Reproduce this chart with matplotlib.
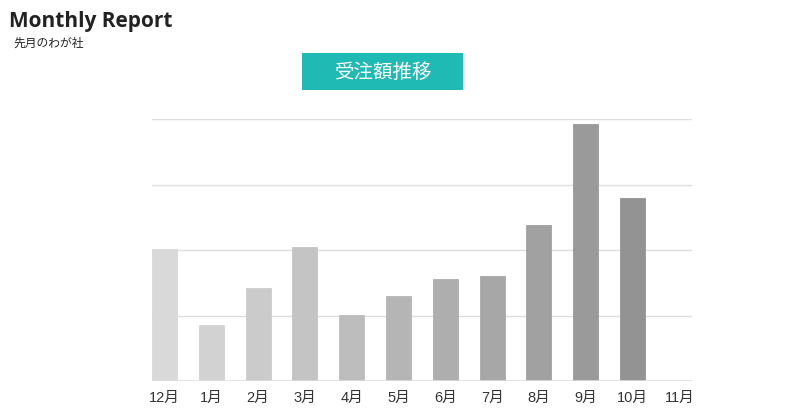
import matplotlib
matplotlib.use("Agg")
import matplotlib.pyplot as plt
from matplotlib.patches import Rectangle

plt.rcParams['font.family'] = ['Noto Sans CJK JP', 'DejaVu Sans']

months = ['12月', '1月', '2月', '3月', '4月', '5月', '6月', '7月', '8月', '9月', '10月', '11月']
orders = [201, 85, 142, 204, 101, 130, 156, 160, 238, 392, 279, None]
bar_colors = ['#d9d9d9', '#d2d2d2', '#cbcbcb', '#c4c4c4', '#bdbdbd', '#b5b5b5',
              '#aeaeae', '#a7a7a7', '#a1a1a1', '#9a9a9a', '#939393']
grid_levels = [100, 200, 300, 400]

W, H = 800, 420
fig = plt.figure(figsize=(W / 100, H / 100), dpi=100)
fig.patch.set_facecolor('white')


def fx(px):
    return px / W


def fy(py):
    return 1 - py / H


ax = fig.add_axes([fx(152), fy(381), fx(692) - fx(152), fy(119) - fy(381)])
ax.set_facecolor('white')

bar_w = 0.534
xs = [i for i, v in enumerate(orders) if v is not None]
vals = [v for v in orders if v is not None]
ax.bar(xs, vals, width=bar_w, color=bar_colors[:len(vals)],
       edgecolor=bar_colors[:len(vals)], linewidth=0.6, zorder=3)

for g in grid_levels:
    ax.axhline(g, color='#dedede', linewidth=1.0, zorder=1)
ax.axhline(0, color='#dedede', linewidth=1.2, zorder=4)

ax.set_xlim(-bar_w / 2, 11 + 0.27)
ax.set_ylim(0, 400)
ax.set_xticks(range(len(months)))
ax.set_xticklabels(months, fontsize=10.5, color='#333333',
                   family=['Liberation Sans', 'Noto Sans CJK JP'])
ax.tick_params(axis='x', length=0, pad=7)
ax.set_yticks([])
for s in ax.spines.values():
    s.set_visible(False)

# header
fig.text(fx(9), fy(27), 'Monthly Report', fontsize=15, fontweight='bold',
         color='#222222', family=['Open Sans', 'DejaVu Sans'], va='baseline')
fig.text(fx(13), fy(43), '先月のわが社', fontsize=8.5, color='#222222', va='center')

# chart title box
fig.patches.append(Rectangle((fx(302), fy(90)), fx(463) - fx(302), fy(53) - fy(90),
                             transform=fig.transFigure, facecolor='#20bab5',
                             edgecolor='none', zorder=0))
fig.text(fx(383), fy(72), '受注額推移', fontsize=14, color='white',
         ha='center', va='center')

fig.savefig('out.png', dpi=100, facecolor='white')
